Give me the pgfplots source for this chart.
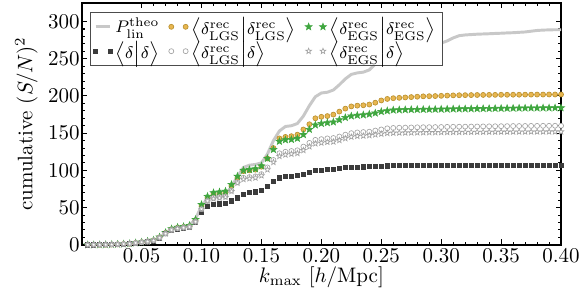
\documentclass[border=0pt]{standalone}
\usepackage{pgfplots}
\usepackage{pgfplotstable}
\pgfplotsset{compat=1.18}
\definecolor{theo}{HTML}{C8C8C8}
\definecolor{orangec}{HTML}{E8B650}
\definecolor{orangee}{HTML}{B8902E}
\definecolor{greenc}{HTML}{3FA63F}
\definecolor{darkc}{HTML}{3C3C3C}
\definecolor{greyo}{HTML}{A0A0A0}
\pgfdeclareplotmark{fstar}{%
  \pgfpathmoveto{\pgfpointpolar{90}{\pgfplotmarksize}}%
  \pgfpathlineto{\pgfpointpolar{126}{0.42\pgfplotmarksize}}%
  \pgfpathlineto{\pgfpointpolar{162}{\pgfplotmarksize}}%
  \pgfpathlineto{\pgfpointpolar{198}{0.42\pgfplotmarksize}}%
  \pgfpathlineto{\pgfpointpolar{234}{\pgfplotmarksize}}%
  \pgfpathlineto{\pgfpointpolar{270}{0.42\pgfplotmarksize}}%
  \pgfpathlineto{\pgfpointpolar{306}{\pgfplotmarksize}}%
  \pgfpathlineto{\pgfpointpolar{342}{0.42\pgfplotmarksize}}%
  \pgfpathlineto{\pgfpointpolar{18}{\pgfplotmarksize}}%
  \pgfpathlineto{\pgfpointpolar{54}{0.42\pgfplotmarksize}}%
  \pgfpathclose
  \pgfusepathqfillstroke
}
\pgfplotsset{twomarks/.style={legend image code/.code={\draw[##1] plot coordinates {(0cm,0cm) (0.24cm,0cm)};}},
  lineimg/.style={legend image code/.code={\draw[##1] (0cm,0cm) -- (0.24cm,0cm);}}}
\newcommand{\br}[2]{\bigl\langle #1\big| #2\bigr\rangle}
\pgfplotstableread{
k T O G D C S
0.005 0 0 0 0 0 0
0.010 0 0 0 0 0 0
0.015 0.1 0.1 0.1 0.1 0.1 0.1
0.020 0.2 0.2 0.2 0.2 0.2 0.2
0.025 0.4 0.4 0.5 0.3 0.4 0.4
0.030 0.7 0.7 0.8 0.6 0.7 0.7
0.035 1.0 1.0 1.1 0.9 1.0 1.0
0.040 1.5 1.5 1.6 1.4 1.5 1.5
0.045 2.5 2.5 2.6 2.2 2.4 2.4
0.050 3.5 3.5 3.7 3.0 3.4 3.4
0.055 4.5 4.6 4.8 4.0 4.4 4.4
0.060 6 6 6.3 5 5.8 5.8
0.065 10 10 10.5 9 9.5 9.5
0.070 16 16 16.5 15 15 15
0.075 21 21 21.5 19 20 20
0.080 23 23 23.5 21 22 22
0.085 24 24 24.5 22 23 23
0.090 26 25 26 23 24 24
0.095 35 33 34 30 31 31
0.100 52 52 54 44 48 48
0.105 62 63 65 52 59 59
0.110 65 68 70 54 63 62
0.115 66 69 71 55 64 63
0.120 68 70 72 56 65 64
0.125 78 79 81 59 73 72
0.130 92 90 92 63 84 83
0.135 104 99 100 68 90 88
0.140 107 100 101 70 91 89
0.145 108 101 102 71 92 90
0.150 110 105 106 73 95 93
0.155 122 116 116 78 104 101
0.160 140 130 128 85 114 111
0.165 153 143 139 90 123 119
0.170 159 145 141 91.5 125 121
0.175 160 146 141.5 92 126 122
0.180 163 148 143 93 127 123
0.185 173 155 148 95 132 127
0.190 187 162 155 97 137 132
0.195 199 170 161 99.5 141 136
0.200 204 172 163 100.5 142 137
0.205 205 173 164 101 143 138
0.210 208 175 165 101.5 143.5 138.5
0.215 215 179 168 102.5 145.5 140.5
0.220 223 183 171 103.5 148 143
0.225 229 186 173 104.2 150 145
0.230 231 187 174 104.5 151 146
0.235 232 187.5 174.5 104.7 151.5 146.5
0.240 235 188.5 175.5 105 152 147
0.245 243 191 177 105.4 153.5 148
0.250 252 194 179 105.8 155 149
0.255 258 196 180 106.1 156.5 150
0.260 261 197 181 106.3 157 150.3
0.265 261.5 197.5 181.3 106.4 157.3 150.5
0.270 262 198 181.5 106.5 157.5 150.6
0.275 264 198.5 181.7 106.5 157.7 150.7
0.280 266 199 181.8 106.6 157.9 150.8
0.285 268 199.5 181.9 106.6 158 150.9
0.290 269 199.7 182 106.7 158.1 151
0.295 269.5 199.9 182.1 106.7 158.2 151
0.300 271 200.2 182.2 106.7 158.3 151.1
0.305 274 200.5 182.3 106.8 158.5 151.2
0.310 278 200.8 182.5 106.8 158.6 151.3
0.315 281 201 182.6 106.8 158.7 151.3
0.320 282 201.1 182.7 106.8 158.8 151.4
0.325 282.5 201.2 182.8 106.9 158.9 151.4
0.330 283 201.3 182.9 106.9 159 151.5
0.335 283.3 201.4 183 106.9 159.1 151.5
0.340 283.6 201.5 183.1 106.9 159.2 151.6
0.345 284 201.5 183.2 106.9 159.3 151.6
0.350 284.3 201.6 183.3 107 159.4 151.7
0.355 284.7 201.6 183.4 107 159.5 151.7
0.360 285 201.7 183.5 107 159.6 151.8
0.365 285.5 201.7 183.6 107 159.6 151.8
0.370 286 201.8 183.7 107 159.7 151.8
0.375 287 201.8 183.8 107 159.8 151.9
0.380 288 201.9 183.8 107 159.8 151.9
0.385 288.5 201.9 183.9 107 159.9 151.9
0.390 288.8 202 183.9 107 159.9 152
0.395 289 202 184 107 160 152
0.400 289 202 184 107 160 152
}\data
\begin{document}
\begin{tikzpicture}
\begin{axis}[
  scale only axis,
  width=228.3pt, height=115.2pt,
  xmin=0, xmax=0.40, ymin=0, ymax=325,
  xtick={0.05,0.10,0.15,0.20,0.25,0.30,0.35,0.40},
  ytick={0,50,100,150,200,250,300},
  minor x tick num=4, minor y tick num=4,
  tick align=inside, tick pos=both,
  major tick length=2.6pt, minor tick length=1.4pt,
  axis line style={line width=0.8pt},
  every tick/.style={black, line width=0.5pt},
  xticklabel style={/pgf/number format/fixed, /pgf/number format/fixed zerofill, /pgf/number format/precision=2},
  scaled x ticks=false,
  tick label style={inner sep=0pt},
  xticklabel shift=2pt, yticklabel shift=0.8pt,
  xlabel={$k_{\rm max}\ [h/{\rm Mpc}]$},
  ylabel={cumulative $(S/N)^2$},
  every axis x label/.style={at={(rel axis cs:0.5,0)}, anchor=base, inner sep=0pt, yshift=-18pt},
  every axis y label/.style={at={(rel axis cs:0,0.5)}, rotate=90, anchor=south, inner sep=0pt, yshift=20.8pt},
  legend columns=3,
  legend style={at={(0.0175,0.962)}, anchor=north west, draw=black!70, line width=0.4pt,
    inner xsep=1.5pt, inner ysep=1pt, row sep=0pt, font=\footnotesize,
    nodes={inner xsep=1.5pt, inner ysep=0.8pt},
    /tikz/every even column/.append style={column sep=3pt}},
  legend cell align=left,
]
\addplot[theo, line width=1.4pt, lineimg] table[x=k,y=T] {\data};
\addlegendentry{$P_{\rm lin}^{\rm theo}$}
\addplot[only marks, mark=*, mark size=1.2pt, draw=orangee, fill=orangec, line width=0.3pt, twomarks] table[x=k,y=O] {\data};
\addlegendentry{$\br{\delta^{\rm rec}_{\rm LGS}}{\delta^{\rm rec}_{\rm LGS}}$}
\addplot[only marks, mark=fstar, mark size=1.7pt, draw=greenc, fill=greenc, line width=0.3pt, twomarks] table[x=k,y=G] {\data};
\addlegendentry{$\br{\delta^{\rm rec}_{\rm EGS}}{\delta^{\rm rec}_{\rm EGS}}$}
\addplot[only marks, mark=square*, mark size=1.0pt, draw=darkc, fill=darkc, twomarks] table[x=k,y=D] {\data};
\addlegendentry{$\br{\delta}{\delta}$}
\addplot[only marks, mark=*, mark size=1.2pt, draw=greyo, fill=white, line width=0.3pt, twomarks] table[x=k,y=C] {\data};
\addlegendentry{$\br{\delta^{\rm rec}_{\rm LGS}}{\delta}$}
\addplot[only marks, mark=fstar, mark size=1.4pt, draw=greyo, fill=white, line width=0.3pt, twomarks] table[x=k,y=S] {\data};
\addlegendentry{$\br{\delta^{\rm rec}_{\rm EGS}}{\delta}$}
\end{axis}
\pgfresetboundingbox
\path ([xshift=-38.9pt,yshift=-21.9pt]current axis.south west) rectangle ([xshift=9.5pt,yshift=1.4pt]current axis.north east);
\end{tikzpicture}
\end{document}
